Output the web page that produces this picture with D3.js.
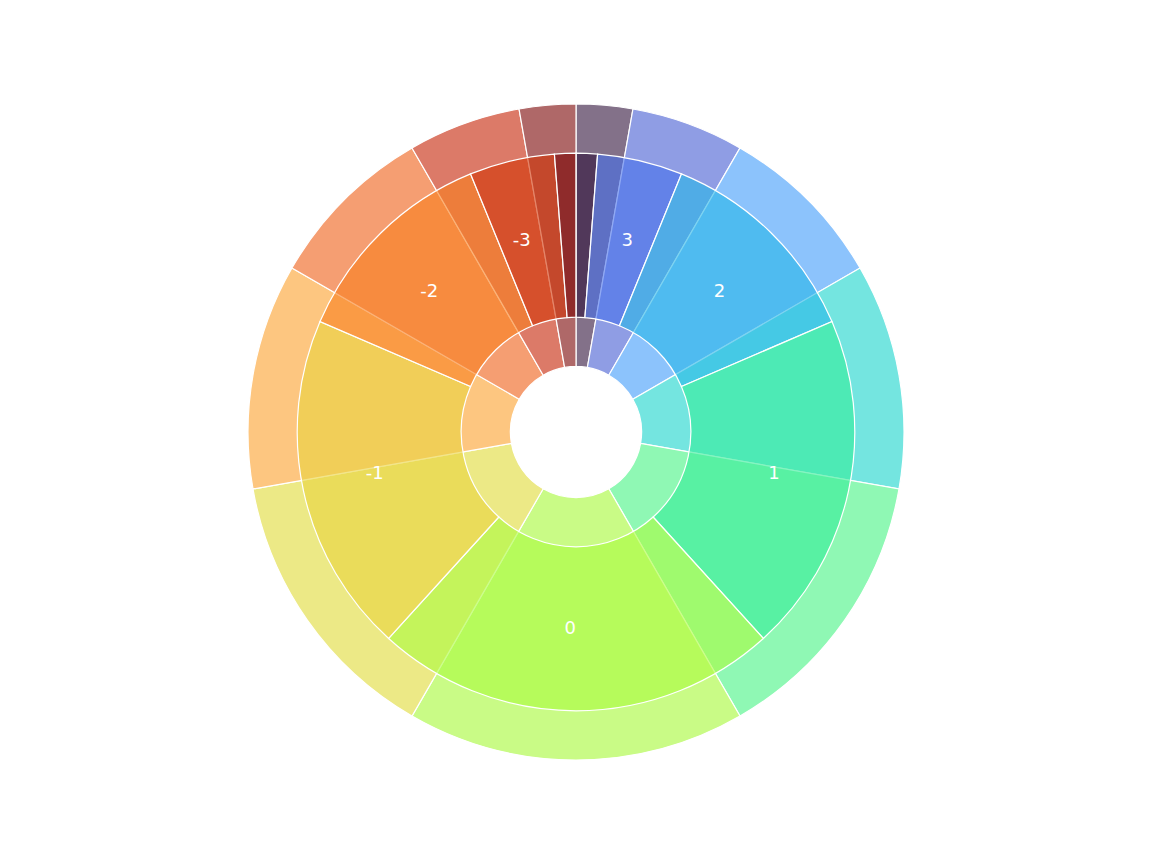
<!DOCTYPE html>
<html>
<head>
<meta charset="utf-8">
<script src="https://cdn.jsdelivr.net/npm/d3@7"></script>
<style>
html, body { margin: 0; background: #fff; }
svg { display: block; }
</style>
</head>
<body>
<div id="the_chart"></div>
<script>
// outer band (also shows through as the innermost ring)
var outerValues = [10, 20, 30, 40, 50, 60, 50, 40, 30, 20, 10];
var outerColors = ["#30123b", "#445cd2", "#3f9bfa", "#17d4cb", "#44f382", "#a5f835",
                   "#dfda35", "#fca02b", "#ee5d14", "#c52103", "#7a0403"];

// middle band, drawn on top
var innerValues = [5, 20, 50, 80, 95, 80, 50, 20, 5];
var innerLabels = ["", "3", "2", "1", "0", "-1", "-2", "-3", ""];
var innerColors = ["#30123b", "#4670eb", "#26b6e8", "#33ed97", "#aafb40",
                   "#ead33e", "#f97e1e", "#d23405", "#7a0403"];

gen_vis();

function gen_vis() {
    var w = 1152;
    var h = 864;
    var cx = 576, cy = 432;
    var R = 328;

    var svg = d3.select("#the_chart").append("svg")
        .attr("width", w)
        .attr("height", h);
    var g = svg.append("g")
        .attr("transform", "translate(" + cx + "," + cy + ")");

    var pie = d3.pie()
        .sort(null)
        .value(function (d) { return d; });

    var arcOuter = d3.arc()
        .innerRadius(R * 0.2)
        .outerRadius(R);
    var arcInner = d3.arc()
        .innerRadius(R * 0.35)
        .outerRadius(R * 0.85);

    g.append("g").selectAll("path")
        .data(pie(outerValues))
        .enter().append("path")
        .attr("d", arcOuter)
        .attr("fill", function (d, i) { return outerColors[i]; })
        .attr("fill-opacity", 0.6)
        .attr("stroke", "#fff")
        .attr("stroke-width", 1.2);

    var inner = pie(innerValues);
    g.append("g").selectAll("path")
        .data(inner)
        .enter().append("path")
        .attr("d", arcInner)
        .attr("fill", function (d, i) { return innerColors[i]; })
        .attr("fill-opacity", 0.6)
        .attr("stroke", "#fff")
        .attr("stroke-width", 1.2);

    // labels sit at 0.6 R, aligned away from the vertical axis
    g.append("g").selectAll("text")
        .data(inner)
        .enter().append("text")
        .each(function (d, i) {
            var a = (d.startAngle + d.endAngle) / 2;
            var x = Math.sin(a) * R * 0.6;
            var y = -Math.cos(a) * R * 0.6;
            d3.select(this)
                .attr("x", x)
                .attr("y", y - 1.5)
                .attr("text-anchor", x > 0.001 ? "start" : "end")
                .attr("dominant-baseline", "central")
                .text(innerLabels[i]);
        })
        .attr("fill", "#fff")
        .attr("font-family", "DejaVu Sans")
        .attr("font-size", 18);
}
</script>
</body>
</html>
